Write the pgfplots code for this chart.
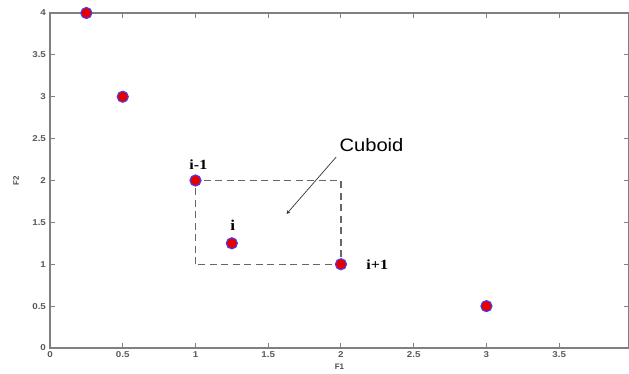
\documentclass[border=0pt]{standalone}
\usepackage{pgfplots}
\pgfplotsset{compat=1.18}
\usepackage{fontspec}
\setmainfont{Liberation Sans}
\newfontfamily\serifont{Liberation Serif}
\begin{document}
\begin{tikzpicture}
\begin{axis}[
  scale only axis,
  width=579pt, height=335pt,
  xmin=0, xmax=3.98, ymin=0, ymax=4,
  xtick={0,0.5,1,1.5,2,2.5,3,3.5},
  ytick={0,0.5,1,1.5,2,2.5,3,3.5,4},
  xticklabels={0,0.5,1,1.5,2,2.5,3,3.5},
  yticklabels={0,0.5,1,1.5,2,2.5,3,3.5,4},
  tick label style={font=\bfseries\fontsize{8.5}{9}\selectfont, text=black!65, xscale=1.15},
  axis line style={draw=black!50, line width=1.4pt},
  major tick style={draw=black!50, line width=1pt},
  major tick length=5pt,
  xlabel={F1}, ylabel={F2},
  label style={font=\bfseries\fontsize{8}{9}\selectfont, text=black!70},
  xlabel style={yshift=0pt},
  ylabel style={yshift=6pt},
  clip=false,
]
\addplot[only marks, mark=*, mark size=5.6pt, mark options={fill=red!90!black, draw=blue!75, line width=1pt}]
  coordinates {(0.25,4) (0.5,3) (1,2) (1.25,1.25) (2,1) (3,0.5)};
\draw[black!60, line width=1.2pt, dash pattern=on 7pt off 4.5pt] (axis cs:1,1) rectangle (axis cs:2,2);
\node[font=\serifont\bfseries\fontsize{14}{15}\selectfont, xscale=1.15] at (axis cs:1.02,2.19) {i-1};
\node[font=\serifont\bfseries\fontsize{15}{16}\selectfont, xscale=1.15] at (axis cs:1.257,1.47) {i};
\node[font=\serifont\bfseries\fontsize{14}{15}\selectfont, xscale=1.15] at (axis cs:2.25,0.99) {i+1};
\node[font=\fontsize{18}{20}\selectfont, xscale=1.12] at (axis cs:2.21,2.42) {Cuboid};
\draw[-stealth, black!80, line width=0.7pt] (axis cs:1.967,2.28) -- (axis cs:1.626,1.60);
\end{axis}
\pgfresetboundingbox
\path ([shift={(-50pt,-26pt)}]current axis.south west) rectangle ([shift={(0pt,13pt)}]current axis.north east);
\end{tikzpicture}
\end{document}
